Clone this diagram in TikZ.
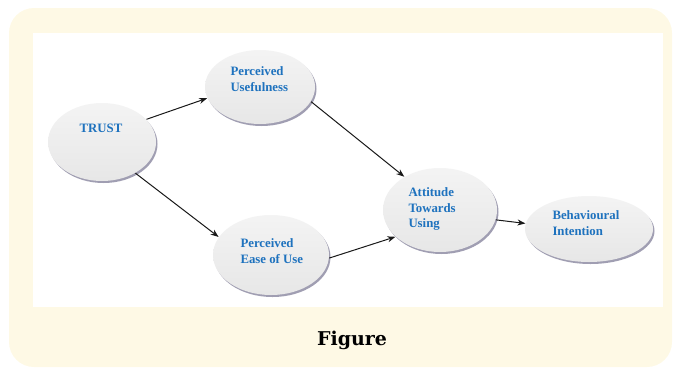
\documentclass[tikz,border=0pt]{standalone}
\usepackage{fontspec}
\setmainfont{Liberation Serif}
\newfontfamily\capfont{DejaVu Serif}
\usepackage{tikz}
\usetikzlibrary{shapes.geometric, shadows, arrows.meta}

\definecolor{cream}{RGB}{254,249,229}
\definecolor{lblblue}{RGB}{30,114,190}
\definecolor{shadowgray}{RGB}{150,148,170}

\begin{document}
\begin{tikzpicture}[x=1pt, y=-1pt, line width=1pt,
    bubble/.style={ellipse, draw=none, inner sep=0pt, top color=gray!9, bottom color=gray!19,
        drop shadow={shadow xshift=1.5pt, shadow yshift=-2pt, fill=shadowgray, opacity=.9}},
    lbl/.style={font=\bfseries\fontsize{12.8}{15.5}\selectfont, text=lblblue, align=left, inner sep=0pt},
    link/.style={-{Stealth[length=8pt, width=6pt]}, line width=1pt, draw=black!90}]
    \useasboundingbox (0,0) rectangle (679,372);

    % background panel
    \fill[cream, rounded corners=25pt] (9,8) rectangle (672,367);
    \fill[white] (33,33) rectangle (663,307);

    % constructs
    \node[bubble, minimum width=108pt, minimum height=78pt] (trust) at (102,142) {};
    \node[bubble, minimum width=110pt, minimum height=74pt] (pu) at (260,87) {};
    \node[bubble, minimum width=116pt, minimum height=80pt] (peu) at (271,255) {};
    \node[bubble, minimum width=114pt, minimum height=84pt] (atu) at (440,210) {};
    \node[bubble, minimum width=128pt, minimum height=66pt] (bi) at (589,229) {};

    \node[lbl] (trust-l) at (101,128) {TRUST};
    \node[lbl, anchor=west] (pu-l) at (230,79) {Perceived\\Usefulness};
    \node[lbl, anchor=west] (peu-l) at (240,251) {Perceived\\Ease of Use};
    \node[lbl, anchor=west] (atu-l) at (408,209) {Attitude\\Towards\\Using};
    \node[lbl, anchor=west] (bi-l) at (552,223) {Behavioural\\Intention};

    % paths
    \draw[link] (trust.27) -- (pu.192);
    \draw[link] (trust.-43) -- (peu.161);
    \draw[link] (pu.-16) -- (atu.137);
    \draw[link] (peu.-3) -- (atu.211);
    \draw[link] (atu.-10) -- (bi.175);

    \node[font=\capfont\bfseries\fontsize{19}{22}\selectfont] (caption) at (352,340) {Figure};
\end{tikzpicture}
\end{document}
